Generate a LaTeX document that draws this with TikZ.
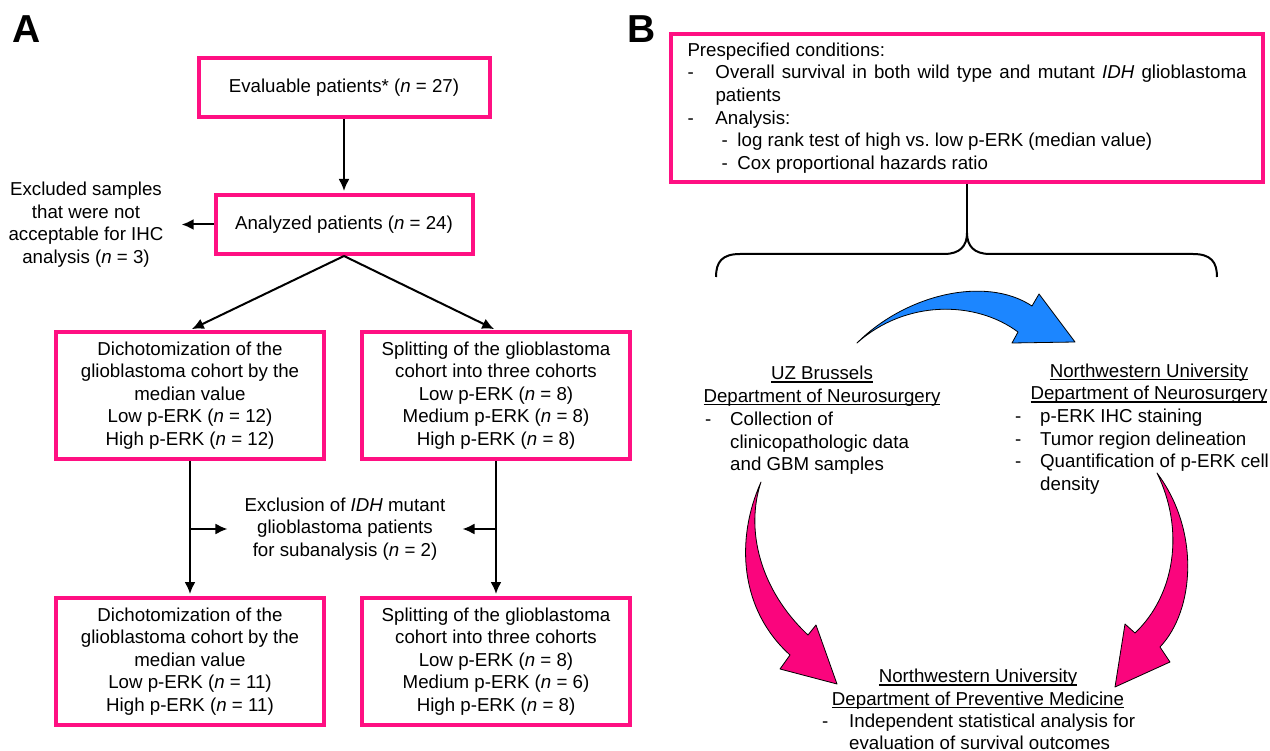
\documentclass[tikz,border=0pt]{standalone}
\usepackage{fontspec}
\setmainfont{Liberation Sans}
\usetikzlibrary{arrows.meta}
\definecolor{boxpink}{RGB}{255,16,130}
\definecolor{arrowpink}{RGB}{250,5,125}
\definecolor{arrowblue}{RGB}{28,134,255}
\newcommand{\nn}{\textit{n}}
\newsavebox{\ulbox}
\newcommand{\undl}[1]{\sbox{\ulbox}{#1}\rlap{\rule[-3pt]{\wd\ulbox}{1.3pt}}\usebox{\ulbox}}
\tikzset{
    txt/.style={font=\fontsize{18.7}{22.6}\selectfont, align=center, inner sep=0pt},
    pbox/.style={txt, draw=boxpink, line width=4pt},
    flow/.style={->, line width=2pt},
    panel/.style={font=\fontsize{39}{39}\selectfont\bfseries, inner sep=0pt, anchor=base west},
    blockarrow/.style={draw=black, line width=0.8pt, line join=round}
}
\begin{document}
\begin{tikzpicture}[x=1pt, y=-1pt, >={Latex[length=12pt,width=11pt]}]
            \useasboundingbox (0,0) rectangle (1270,751);

            \node[panel] (labA) at (12,43) {A};
            \node[panel] (labB) at (627,43) {B};

            \node[pbox, minimum width=291pt, minimum height=59pt] (eval) at (344,87.5) {Evaluable patients* (\nn{} = 27)};
            \node[pbox, minimum width=257pt, minimum height=59pt] (anal) at (344,224.5) {Analyzed patients (\nn{} = 24)};
            \node[txt, inner xsep=18pt] (excl) at (86,224.5) {Excluded samples\\that were not\\acceptable for IHC\\analysis (\nn{} = 3)};

            \node[pbox, minimum width=268pt, minimum height=127pt] (dichoA) at (190,395.5)
                {Dichotomization of the\\glioblastoma cohort by the\\median value\\Low p-ERK (\nn{} = 12)\\High p-ERK (\nn{} = 12)};
            \node[pbox, minimum width=268pt, minimum height=127pt] (splitA) at (496,395.5)
                {Splitting of the glioblastoma\\cohort into three cohorts\\Low p-ERK (\nn{} = 8)\\Medium p-ERK (\nn{} = 8)\\High p-ERK (\nn{} = 8)};
            \node[pbox, minimum width=268pt, minimum height=127pt] (dichoB) at (190,661.5)
                {Dichotomization of the\\glioblastoma cohort by the\\median value\\Low p-ERK (\nn{} = 11)\\High p-ERK (\nn{} = 11)};
            \node[pbox, minimum width=268pt, minimum height=127pt] (splitB) at (496,661.5)
                {Splitting of the glioblastoma\\cohort into three cohorts\\Low p-ERK (\nn{} = 8)\\Medium p-ERK (\nn{} = 6)\\High p-ERK (\nn{} = 8)};
            \node[txt, inner xsep=17pt] (subex) at (345,529) {Exclusion of \textit{IDH} mutant\\glioblastoma patients\\for subanalysis (\nn{} = 2)};

            \draw[flow, shorten >=2pt] (eval) -- (anal);
            \draw[flow] (anal) -- (excl);
            \draw[flow, shorten >=2pt] (anal.south) -- (dichoA.north);
            \draw[flow, shorten >=2pt] (anal.south) -- (splitA.north);
            \draw[flow, shorten >=2pt] (dichoA) -- (dichoB);
            \draw[flow, shorten >=2pt] (splitA) -- (splitB);
            \foreach \col in {dichoA,splitA}
                {\draw[flow] (\col.south |- subex) -- (subex);
                }

            \node[pbox, text width=559pt, align=justify, inner xsep=16.5pt, minimum height=148pt] (cond) at (967,108) {%
                Prespecified conditions:\par
                \hangindent=28pt\hangafter=1\noindent\makebox[28pt][l]{-}Overall survival in both wild type and mutant \textit{IDH} glioblastoma patients\par
                \noindent\makebox[28pt][l]{-}Analysis:\par
                \noindent\hspace*{34pt}\makebox[16pt][l]{-}log rank test of high vs.\ low p-ERK (median value)\par
                \noindent\hspace*{34pt}\makebox[16pt][l]{-}Cox proportional hazards ratio};
            \coordinate (brtip) at (967,233);
            \draw[line width=2pt] (cond) -- (brtip);
            \draw[line width=2pt] (716,277) .. controls (716,262) and (722,254) .. (740,254) -- (944,254)
                .. controls (960,254) and (967,246) .. (brtip) .. controls (967,246) and (974,254) .. (990,254)
                -- (1193,254) .. controls (1211,254) and (1217,262) .. (1217,277);

            \node[txt] (uzH) at (822,386) {\undl{UZ Brussels}\\\undl{Department of Neurosurgery}};
            \node[txt, anchor=base west] (uzL) at (705,425.5)
                {\begin{tabular}[t]{@{}p{25pt}@{}l@{}}-&Collection of\\&clinicopathologic data\\&and GBM samples\end{tabular}};
            \node[txt] (nwH) at (1149,383.5) {\undl{Northwestern University}\\\undl{Department of Neurosurgery}};
            \node[txt, anchor=base west] (nwL) at (1015,422.5)
                {\begin{tabular}[t]{@{}p{25pt}@{}l@{}}-&p-ERK IHC staining\\-&Tumor region delineation\\-&Quantification of p-ERK cell\\&density\end{tabular}};
            \node[txt] (pmH) at (978,689) {\undl{Northwestern University}\\\undl{Department of Preventive Medicine}};
            \node[txt, anchor=base west] (pmL) at (822,727)
                {\begin{tabular}[t]{@{}p{27pt}@{}l@{}}-&Independent statistical analysis for\\&evaluation of survival outcomes\end{tabular}};

            \filldraw[blockarrow, fill=arrowblue] (857,343) .. controls (905,295) and (985,275) .. (1032,306)
                -- (1039,294) -- (1075,342) -- (1012,343) -- (1018,332) .. controls (975,300) and (905,300) .. cycle;
            \filldraw[blockarrow, fill=arrowpink] (761,482) .. controls (735,540) and (740,610) .. (790,655)
                -- (780,669) -- (837,684) -- (816,625) -- (808,635) .. controls (760,590) and (745,530) .. cycle;
            \filldraw[blockarrow, fill=arrowpink] (1157,473) .. controls (1200,530) and (1195,610) .. (1160,647)
                -- (1170,662) -- (1115,687) -- (1125,624) -- (1135,633) .. controls (1175,595) and (1185,530) .. cycle;
\end{tikzpicture}
\end{document}
